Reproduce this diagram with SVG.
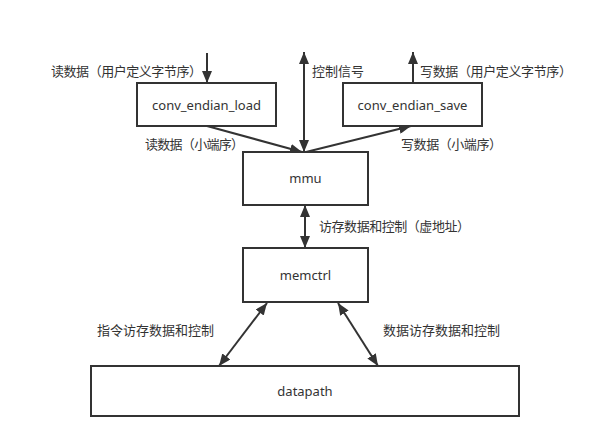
<svg xmlns="http://www.w3.org/2000/svg" width="610" height="447" viewBox="0 0 610 447">
<defs>
<style>
.box{fill:#fff;stroke:#333;stroke-width:2}
.lbl{font-family:"Noto Sans","Noto Sans CJK SC",sans-serif;font-size:13px;fill:#333;text-anchor:middle;dominant-baseline:central}
.cn{font-family:"Noto Sans CJK SC","Noto Sans",sans-serif;font-size:13px;fill:#333;dominant-baseline:central}
.ln{stroke:#333;stroke-width:2;fill:none}
</style>
<marker id="ah" markerUnits="userSpaceOnUse" markerWidth="12" markerHeight="10" refX="12" refY="5" orient="auto-start-reverse" viewBox="0 0 12 10">
<path d="M0,0 L12,5 L0,10 Z" fill="#333"/>
</marker>
</defs>
<rect width="610" height="447" fill="#fff"/>
<g id="connectors">
<line class="ln" x1="207" y1="53" x2="207" y2="83" marker-end="url(#ah)"/>
<line class="ln" x1="304" y1="52" x2="304" y2="152" marker-start="url(#ah)" marker-end="url(#ah)"/>
<line class="ln" x1="413" y1="83" x2="413" y2="52" marker-end="url(#ah)"/>
<line class="ln" x1="207" y1="126" x2="302" y2="152" marker-end="url(#ah)"/>
<line class="ln" x1="306" y1="152" x2="411" y2="126" marker-end="url(#ah)"/>
<line class="ln" x1="305" y1="205" x2="305" y2="248" marker-start="url(#ah)" marker-end="url(#ah)"/>
<line class="ln" x1="267" y1="303" x2="219" y2="366" marker-start="url(#ah)" marker-end="url(#ah)"/>
<line class="ln" x1="338" y1="303" x2="378" y2="366" marker-start="url(#ah)" marker-end="url(#ah)"/>
<text class="cn" x="51" y="70" textLength="151">读数据（用户定义字节序）</text>
<text class="cn" x="312" y="70">控制信号</text>
<text class="cn" x="420" y="70" textLength="152">写数据（用户定义字节序）</text>
<text class="cn" x="145" y="143" textLength="99">读数据（小端序）</text>
<text class="cn" x="401" y="143" textLength="101">写数据（小端序）</text>
<text class="cn" x="319" y="225" textLength="151">访存数据和控制（虚地址）</text>
<text class="cn" x="97" y="329">指令访存数据和控制</text>
<text class="cn" x="383" y="329">数据访存数据和控制</text>
</g>
<g id="conv_endian_load">
<rect class="box" x="137" y="83" width="139" height="43"/>
<text class="lbl" x="206.5" y="104.5">conv_endian_load</text>
</g>
<g id="conv_endian_save">
<rect class="box" x="343" y="83" width="139" height="43"/>
<text class="lbl" x="412.5" y="104.5">conv_endian_save</text>
</g>
<g id="mmu">
<rect class="box" x="243" y="152" width="125" height="53"/>
<text class="lbl" x="305.5" y="178">mmu</text>
</g>
<g id="memctrl">
<rect class="box" x="243" y="248" width="125" height="54"/>
<text class="lbl" x="305.5" y="275">memctrl</text>
</g>
<g id="datapath">
<rect class="box" x="91" y="366" width="428" height="50"/>
<text class="lbl" x="305" y="391">datapath</text>
</g>
</svg>
